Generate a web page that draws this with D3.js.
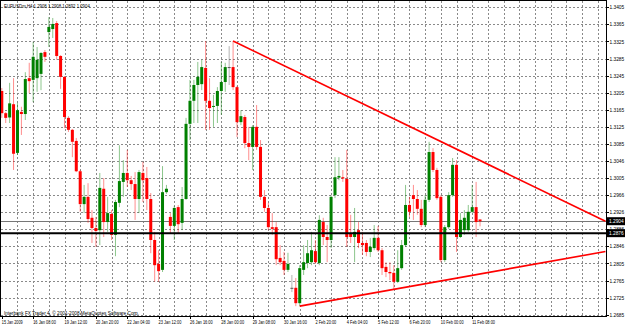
<!DOCTYPE html>
<html>
<head>
<meta charset="utf-8">
<script src="https://cdn.jsdelivr.net/npm/d3@7"></script>
<style>
  body { margin: 0; background: #fff; }
  svg text { font-family: "Liberation Sans", Arial, sans-serif; font-size: 5px; fill: #000; }
  .axis path, .axis line { stroke: #000; shape-rendering: crispEdges; }
  .grid line { stroke: #8a8a8a; stroke-dasharray: 2,2; shape-rendering: crispEdges; }
</style>
</head>
<body>
<svg id="chart" width="625" height="326"></svg>
<script>
// EURUSDm H4 bars, 15 Jan 2009 00:00 onwards
const opens = [
  1.3209, 1.3157, 1.3147, 1.3178, 1.3064, 1.3160, 1.3155, 1.3239, 1.3235, 1.3239,
  1.3249, 1.3300, 1.3347, 1.3354, 1.3368, 1.3291, 1.3242, 1.3146, 1.3118, 1.3092,
  1.3021, 1.2944, 1.2961, 1.2912, 1.2888, 1.2883, 1.2980, 1.2902, 1.2921, 1.2872,
  1.2947, 1.2996, 1.3017, 1.3000, 1.2991, 1.2956, 1.3017, 1.3005, 1.2956, 1.2860,
  1.2804, 1.2790, 1.2972, 1.2914, 1.2893, 1.2937, 1.2900, 1.2956, 1.3132, 1.3186,
  1.3223, 1.3225, 1.3263, 1.3186, 1.3172, 1.3174, 1.3209, 1.3230, 1.3265, 1.3265,
  1.3218, 1.3136, 1.3148, 1.3087, 1.3078, 1.3125, 1.3078, 1.2961, 1.2935, 1.2890,
  1.2890, 1.2818, 1.2811, 1.2790, 1.2748, 1.2748, 1.2712, 1.2790, 1.2806, 1.2808,
  1.2834, 1.2806, 1.2902, 1.2867, 1.2860, 1.2965, 1.3006, 1.3007, 1.3003, 1.2876,
  1.2867, 1.2883, 1.2853, 1.2853, 1.2832, 1.2841, 1.2865, 1.2836, 1.2797, 1.2785,
  1.2783, 1.2762, 1.2794, 1.2848, 1.2942, 1.2965, 1.2956, 1.2933, 1.2895, 1.2954,
  1.3066, 1.3024, 1.2961, 1.2813, 1.2890, 1.2965, 1.3036, 1.2867, 1.2883, 1.2883,
  1.2926, 1.2937, 1.2908
];
const highs = [
  1.3216, 1.3160, 1.3228, 1.3239, 1.3181, 1.3172, 1.3253, 1.3275, 1.3324, 1.3312,
  1.3300, 1.3305, 1.3382, 1.3380, 1.3373, 1.3293, 1.3244, 1.3150, 1.3120, 1.3099,
  1.3024, 1.2989, 1.2993, 1.2930, 1.2914, 1.3017, 1.3005, 1.2961, 1.2930, 1.2954,
  1.3082, 1.3047, 1.3071, 1.3010, 1.3019, 1.3024, 1.3043, 1.3031, 1.2970, 1.2879,
  1.2836, 1.3033, 1.2989, 1.2923, 1.2940, 1.2942, 1.2984, 1.3146, 1.3235, 1.3235,
  1.3277, 1.3282, 1.3326, 1.3239, 1.3200, 1.3218, 1.3277, 1.3275, 1.3314, 1.3326,
  1.3221, 1.3164, 1.3153, 1.3125, 1.3129, 1.3176, 1.3094, 1.2977, 1.2947, 1.2923,
  1.2902, 1.2848, 1.2832, 1.2830, 1.2778, 1.2771, 1.2801, 1.2848, 1.2860, 1.2879,
  1.2860, 1.2918, 1.2912, 1.2895, 1.2965, 1.3054, 1.3054, 1.3024, 1.3071, 1.2919,
  1.2935, 1.2902, 1.2879, 1.2860, 1.2865, 1.2895, 1.2893, 1.2841, 1.2808, 1.2808,
  1.2801, 1.2836, 1.2860, 1.2989, 1.2961, 1.2989, 1.2977, 1.2954, 1.2965, 1.3090,
  1.3075, 1.3029, 1.2965, 1.2895, 1.2972, 1.3052, 1.3047, 1.2923, 1.2930, 1.2942,
  1.2989, 1.2996, 1.2908
];
const lows = [
  1.3146, 1.3134, 1.3134, 1.3024, 1.3059, 1.3106, 1.3141, 1.3204, 1.3183, 1.3207,
  1.3211, 1.3277, 1.3312, 1.3333, 1.3282, 1.3214, 1.3122, 1.3113, 1.3054, 1.3019,
  1.2926, 1.2923, 1.2900, 1.2853, 1.2844, 1.2848, 1.2867, 1.2879, 1.2860, 1.2822,
  1.2937, 1.2961, 1.2984, 1.2977, 1.2907, 1.2923, 1.2949, 1.2930, 1.2829, 1.2762,
  1.2762, 1.2785, 1.2968, 1.2874, 1.2860, 1.2876, 1.2883, 1.2954, 1.3094, 1.3134,
  1.3134, 1.3211, 1.3118, 1.3118, 1.3125, 1.3134, 1.3153, 1.3207, 1.3223, 1.3211,
  1.3101, 1.3129, 1.3075, 1.3047, 1.3024, 1.3071, 1.2954, 1.2926, 1.2883, 1.2872,
  1.2801, 1.2801, 1.2778, 1.2785, 1.2738, 1.2705, 1.2705, 1.2778, 1.2794, 1.2801,
  1.2804, 1.2801, 1.2848, 1.2808, 1.2841, 1.2958, 1.3000, 1.2996, 1.2844, 1.2853,
  1.2808, 1.2841, 1.2825, 1.2822, 1.2820, 1.2836, 1.2832, 1.2778, 1.2773, 1.2766,
  1.2745, 1.2759, 1.2790, 1.2844, 1.2914, 1.2907, 1.2919, 1.2890, 1.2890, 1.2949,
  1.3019, 1.2954, 1.2808, 1.2808, 1.2886, 1.2961, 1.2832, 1.2865, 1.2872, 1.2879,
  1.2923, 1.2867, 1.2892
];
const closes = [
  1.3157, 1.3146, 1.3180, 1.3062, 1.3164, 1.3155, 1.3237, 1.3232, 1.3289, 1.3282,
  1.3298, 1.3289, 1.3359, 1.3366, 1.3291, 1.3242, 1.3148, 1.3118, 1.3090, 1.3021,
  1.2944, 1.2961, 1.2909, 1.2888, 1.2881, 1.2982, 1.2902, 1.2923, 1.2872, 1.2949,
  1.2998, 1.3017, 1.3000, 1.2991, 1.2956, 1.3019, 1.3000, 1.2956, 1.2860, 1.2801,
  1.2787, 1.2972, 1.2980, 1.2893, 1.2935, 1.2897, 1.2956, 1.3132, 1.3186, 1.3223,
  1.3242, 1.3265, 1.3186, 1.3169, 1.3174, 1.3209, 1.3230, 1.3265, 1.3265, 1.3218,
  1.3136, 1.3150, 1.3087, 1.3078, 1.3125, 1.3078, 1.2961, 1.2935, 1.2890, 1.2886,
  1.2815, 1.2808, 1.2790, 1.2804, 1.2748, 1.2712, 1.2794, 1.2808, 1.2829, 1.2836,
  1.2808, 1.2907, 1.2867, 1.2860, 1.2961, 1.3007, 1.3010, 1.3004, 1.2867, 1.2867,
  1.2879, 1.2853, 1.2848, 1.2832, 1.2844, 1.2865, 1.2836, 1.2794, 1.2785, 1.2782,
  1.2762, 1.2794, 1.2848, 1.2942, 1.2926, 1.2956, 1.2933, 1.2895, 1.2954, 1.3066,
  1.3024, 1.2958, 1.2813, 1.2890, 1.2965, 1.3036, 1.2867, 1.2907, 1.2912, 1.2926,
  1.2937, 1.2902, 1.2904
];

const priceTicks = [1.3405, 1.3365, 1.3325, 1.3285, 1.3245, 1.3205, 1.3165, 1.3125, 1.3085,
  1.3046, 1.3005, 1.2966, 1.2926, 1.2886, 1.2846, 1.2805, 1.2765, 1.2725, 1.2685];
const timeLabels = ['15 Jan 2009', '16 Jan 08:00', '19 Jan 12:00', '20 Jan 20:00', '22 Jan 04:00',
  '23 Jan 12:00', '26 Jan 16:00', '28 Jan 00:00', '29 Jan 08:00', '30 Jan 16:00', '2 Feb 20:00',
  '4 Feb 04:00', '5 Feb 12:00', '6 Feb 20:00', '10 Feb 00:00', '11 Feb 08:00'];

// trend lines: [bar index, price] pairs, the right point sits on the chart edge
const trendLines = [
  [[59, 1.3326], [154, 1.2904]],
  [[76, 1.2705], [154, 1.2833]],
];
const bidPrice = 1.2904;
const hLinePrice = 1.2876;
const header = 'EURUSDm,H4  1.2908 1.2908 1.2892 1.2904';
const footer = 'Interbank FX Trader 4, \u00a9 2001-2008 MetaQuotes Software Corp.';

const svg = d3.select('#chart');
const plot = { left: 1, right: 606, top: 1, bottom: 316 };

const x = d3.scaleLinear().domain([0, 154]).range([1.8, 1.8 + 3.92 * 154]);
const y = d3.scaleLinear().domain([1.2685, 1.3405]).range([314.7, 7.3]);
const fmt = d3.format('.4f');

const bars = opens.map((o, i) => ({ i, o, h: highs[i], l: lows[i], c: closes[i] }));

// squeeze a text into the width the tiny terminal font takes
const fit = (sel, perChar) => sel.attr('textLength', function () { return this.textContent.length * perChar; })
  .attr('lengthAdjust', 'spacingAndGlyphs');

// grid
const grid = svg.append('g').attr('class', 'grid');
grid.selectAll('line.h')
  .data(priceTicks)
  .join('line')
  .attr('class', 'h')
  .attr('x1', plot.left).attr('x2', plot.right)
  .attr('y1', d => Math.round(y(d)) + 0.5).attr('y2', d => Math.round(y(d)) + 0.5);
grid.selectAll('line.v')
  .data(d3.range(4, 154, 4))
  .join('line')
  .attr('class', 'v')
  .attr('x1', d => Math.round(x(d)) + 0.5).attr('x2', d => Math.round(x(d)) + 0.5)
  .attr('y1', plot.top).attr('y2', plot.bottom);

// bid line
svg.append('line')
  .attr('x1', plot.left).attr('x2', plot.right)
  .attr('y1', Math.round(y(bidPrice)) + 0.5).attr('y2', Math.round(y(bidPrice)) + 0.5)
  .attr('stroke', '#777').attr('stroke-width', 1);

// candles
const colorOf = d => d.c > d.o ? '#008000' : d.c < d.o ? '#ff0000' : '#555';
const candles = svg.append('g');
candles.selectAll('line')
  .data(bars)
  .join('line')
  .attr('x1', d => x(d.i)).attr('x2', d => x(d.i))
  .attr('y1', d => y(d.h)).attr('y2', d => y(d.l))
  .attr('stroke', colorOf)
  .attr('stroke-opacity', 0.45)
  .attr('stroke-width', 1);
candles.selectAll('rect')
  .data(bars)
  .join('rect')
  .attr('x', d => x(d.i) - 1.5)
  .attr('width', 3)
  .attr('y', d => y(Math.max(d.o, d.c)))
  .attr('height', d => Math.max(1, Math.abs(y(d.o) - y(d.c))))
  .attr('fill', colorOf);

// horizontal line object
svg.append('line')
  .attr('x1', plot.left).attr('x2', plot.right)
  .attr('y1', y(hLinePrice)).attr('y2', y(hLinePrice))
  .attr('stroke', '#000').attr('stroke-width', 2);

// trend lines
const line = d3.line().x(d => x(d[0])).y(d => y(d[1]));
svg.selectAll('path.trend')
  .data(trendLines)
  .join('path')
  .attr('class', 'trend')
  .attr('d', line)
  .attr('fill', 'none')
  .attr('stroke', '#ff0000')
  .attr('stroke-width', 1.6);

// frame
svg.append('rect')
  .attr('x', plot.left - 0.5).attr('y', plot.top - 0.5)
  .attr('width', plot.right - plot.left + 1).attr('height', plot.bottom - plot.top + 1)
  .attr('fill', 'none').attr('stroke', '#000').attr('stroke-width', 1)
  .attr('shape-rendering', 'crispEdges');

// price axis
const yAxis = svg.append('g')
  .attr('class', 'axis')
  .attr('transform', `translate(${plot.right + 0.5},0)`)
  .call(d3.axisRight(y).tickValues(priceTicks).tickSize(2).tickPadding(1).tickFormat(fmt));
yAxis.select('.domain').remove();
fit(yAxis.selectAll('text'), 2.45);

// time axis
const xAxis = svg.append('g')
  .attr('class', 'axis')
  .attr('transform', `translate(0,${plot.bottom + 0.5})`)
  .call(d3.axisBottom(x).tickValues(timeLabels.map((d, k) => k * 8)).tickSize(2).tickPadding(1.5)
    .tickFormat((d, k) => timeLabels[k]));
xAxis.select('.domain').remove();
xAxis.selectAll('text').attr('text-anchor', 'start').attr('dx', -0.5);
fit(xAxis.selectAll('text'), 1.9);

// price boxes on the axis
const boxes = svg.append('g');
[bidPrice, hLinePrice].forEach(p => {
  const cy = y(p);
  boxes.append('rect')
    .attr('x', plot.right + 1).attr('y', cy - 4)
    .attr('width', 18).attr('height', 8)
    .attr('fill', '#000');
  fit(boxes.append('text')
    .attr('x', plot.right + 3).attr('y', cy + 1.8)
    .style('fill', '#fff')
    .text(fmt(p)), 2.45);
});

fit(svg.append('text').attr('x', 4).attr('y', 7.5).text(header), 2.2);
fit(svg.append('text').attr('x', 4).attr('y', 314.5).text(footer), 2.25);
</script>
</body>
</html>
